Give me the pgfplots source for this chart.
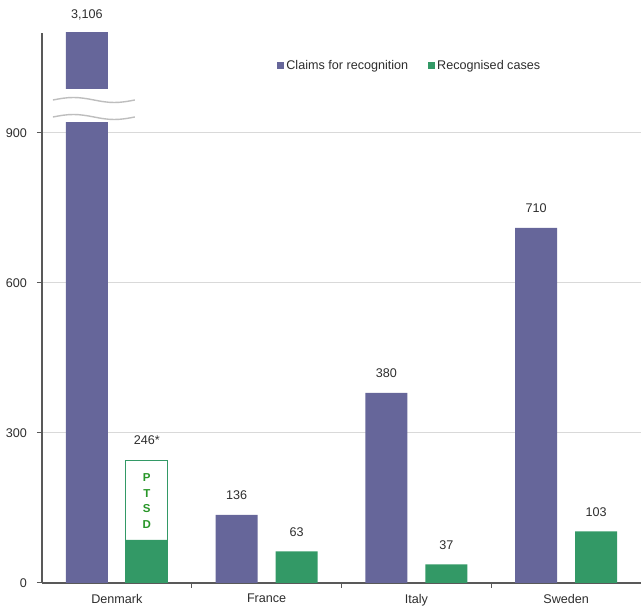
\documentclass[border=0pt]{standalone}
\usepackage{fontspec}
\setmainfont{Liberation Sans}
\usepackage{pgfplots}
\pgfplotsset{compat=1.18}
\definecolor{claimColor}{RGB}{102,102,154}
\definecolor{recogColor}{RGB}{51,153,102}
\definecolor{ptsdColor}{RGB}{40,150,40}
\definecolor{axisGray}{RGB}{89,89,89}
\definecolor{gridGray}{RGB}{217,217,217}
\definecolor{breakGray}{RGB}{190,190,190}
\definecolor{labelGray}{RGB}{45,45,45}

\begin{document}
\fontsize{12.6}{15}\selectfont
\begin{tikzpicture}
\begin{axis}[
    scale only axis,
    width=599pt, height=550pt,
    xmin=-0.5, xmax=3.5, ymin=0, ymax=1100,
    axis lines=left,
    axis line style={axisGray, line width=1.2pt, -},
    ytick={0,300,600,900},
    ymajorgrids,
    grid style={gridGray, line width=1pt},
    xtick={0,1,2,3},
    xticklabels={Denmark,France,Italy,Sweden},
    minor xtick={0.5,1.5,2.5},
    major x tick style={draw=none},
    tick align=outside,
    tick style={axisGray, line width=1pt},
    major tick length=5pt, minor tick length=5pt,
    tick label style={font=\fontsize{12.6}{15}\selectfont, text=labelGray},
    /pgf/number format/assume math mode=true,
    yticklabel style={anchor=east, inner sep=0pt, xshift=-10pt},
    xticklabel style={anchor=north, inner sep=0pt, yshift=-6pt},
    legend style={at={(0.614,0.94)}, anchor=center, draw=none, fill=none,
        legend columns=2, font=\fontsize{12.6}{15}\selectfont, text=labelGray,
        /tikz/every even column/.append style={column sep=18pt},
        cells={anchor=west}},
    legend image code/.code={\fill[#1] (0pt,-3.5pt) rectangle (7pt,3.5pt);},
    point meta=explicit symbolic,
    barlabel/.style={nodes near coords,
        nodes near coords style={font=\fontsize{12.6}{15}\selectfont, text=labelGray,
        anchor=south, inner sep=0pt, yshift=15pt, xshift=#1}},
]
% Claims for recognition (Denmark 3,106 runs past the broken axis)
\addplot[ybar, bar width=42pt, bar shift=-30pt, fill=claimColor, draw=none, barlabel=-30pt]
    coordinates {(0,3106) [] (1,136) [136] (2,380) [380] (3,710) [710]};
% Denmark recognised total, outlined box for the PTSD share
\addplot[ybar, bar width=42pt, bar shift=30pt, fill=white, draw=recogColor,
    line width=0.8pt, forget plot]
    coordinates {(0,246) []};
% Recognised cases
\addplot[ybar, bar width=42pt, bar shift=30pt, fill=recogColor, draw=none, barlabel=30pt]
    coordinates {(0,86) [] (1,63) [63] (2,37) [37] (3,103) [103]};
\legend{Claims for recognition, Recognised cases}

% axis break on the Denmark bar
\fill[white] (axis cs:-0.43,922) rectangle (axis cs:0.13,988);
\draw[breakGray, line width=1.4pt]
    (axis cs:-0.427,966) sin (axis cs:-0.29,971) cos (axis cs:-0.153,966)
    sin (axis cs:-0.017,961) cos (axis cs:0.12,966);
\draw[breakGray, line width=1.4pt]
    (axis cs:-0.427,932) sin (axis cs:-0.29,937) cos (axis cs:-0.153,932)
    sin (axis cs:-0.017,927) cos (axis cs:0.12,932);

\coordinate (dkTop) at (axis cs:-0.2,1100);
\node[font=\fontsize{12.6}{15}\selectfont, text=labelGray, anchor=south,
    inner sep=0pt, yshift=15pt] at (axis cs:0.2,246) {246*};
\node[font=\bfseries\fontsize{11.5}{15.5}\selectfont, text=ptsdColor,
    align=center, inner sep=0pt] at (axis cs:0.2,164) {P\\T\\S\\D};
\end{axis}
\node[font=\fontsize{12.6}{15}\selectfont, text=labelGray, anchor=south,
    inner sep=0pt, yshift=13pt] at (dkTop) {3,106};
\pgfresetboundingbox
\path[use as bounding box] (-42pt,-25pt) rectangle (599pt,583pt);
\end{tikzpicture}
\end{document}
